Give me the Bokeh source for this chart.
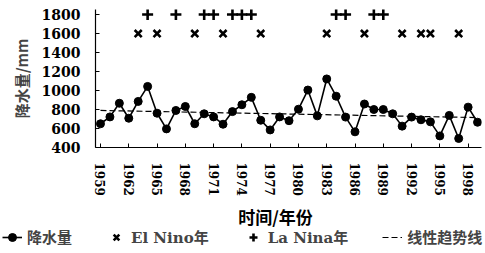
from bokeh.plotting import figure
from bokeh.layouts import column
from bokeh.models import FixedTicker, Legend, LegendItem, Range1d, Label
from bokeh.embed import file_html
from bokeh.resources import INLINE

# ---- data ----
years = [1959, 1960, 1961, 1962, 1963, 1964, 1965, 1966, 1967, 1968,
         1969, 1970, 1971, 1972, 1973, 1974, 1975, 1976, 1977, 1978,
         1979, 1980, 1981, 1982, 1983, 1984, 1985, 1986, 1987, 1988,
         1989, 1990, 1991, 1992, 1993, 1994, 1995, 1996, 1997, 1998, 1999]
rain = [650, 722, 866, 708, 885, 1043, 761, 596, 790, 832,
        650, 755, 722, 645, 778, 850, 928, 687, 585, 722,
        682, 803, 1005, 733, 1122, 940, 720, 565, 858, 800,
        800, 755, 625, 720, 692, 670, 522, 738, 495, 825, 666]

el_nino_years = [1963, 1965, 1969, 1972, 1976, 1983, 1987, 1991, 1993, 1994, 1997]
el_nino_level = 1600
la_nina_years = [1964, 1967, 1970, 1971, 1973, 1974, 1975, 1984, 1985, 1988, 1989]
la_nina_level = 1800

trend_years = [1959, 1999]
trend_values = [790, 715]

x_tick_years = [1959, 1962, 1965, 1968, 1971, 1974, 1977, 1980, 1983, 1986, 1989, 1992, 1995, 1998]
y_tick_values = [400, 600, 800, 1000, 1200, 1400, 1600, 1800]

x_title = "时间/年份"
y_title = "降水量/mm"
legend_labels = ["降水量", "El Nino年", "La Nina年", "线性趋势线"]

SERIF = "DejaVu Serif"
CJK = "Noto Sans CJK SC"
MIXED = "'DejaVu Serif', 'Noto Sans CJK SC'"

# styles shared by the chart and its legend strip
LINE = dict(line_color="black", line_width=1.6)
DOT = dict(marker="circle", size=8, fill_color="black", line_color="black")
XMARK = dict(marker="x", size=10, line_color="black", line_width=2.6)
PLUS = dict(marker="cross", size=11, line_color="black", line_width=2.6)
TREND = dict(line_color="black", line_width=1.2, line_dash="6 3")

p = figure(width=485, height=202, output_backend="svg", toolbar_location=None,
           x_range=Range1d(1958.47, 1999.42), y_range=Range1d(400, 1853),
           min_border_left=95, min_border_right=4, min_border_top=9, min_border_bottom=55)
p.outline_line_color = None
p.grid.visible = False

p.line(trend_years, trend_values, **TREND)
p.line(years, rain, **LINE)
p.scatter(years, rain, **DOT)
p.scatter(el_nino_years, [el_nino_level] * len(el_nino_years), **XMARK)
p.scatter(la_nina_years, [la_nina_level] * len(la_nina_years), **PLUS)

# axes
xa = p.xaxis[0]
xa.ticker = FixedTicker(ticks=x_tick_years)
xa.major_label_orientation = "vertical"
xa.major_label_text_font = SERIF
xa.major_label_text_font_style = "bold"
xa.major_label_text_font_size = "12px"
xa.major_label_text_color = "black"
xa.major_label_standoff = 15
xa.major_tick_in = 4
xa.major_tick_out = 0
xa.minor_tick_in = 0
xa.minor_tick_out = 0
xa.axis_line_color = "black"
xa.axis_line_width = 1.2

ya = p.yaxis[0]
ya.ticker = FixedTicker(ticks=y_tick_values)
ya.major_label_text_font = SERIF
ya.major_label_text_font_style = "bold"
ya.major_label_text_font_size = "14px"
ya.major_label_text_color = "black"
ya.major_label_standoff = 15
ya.major_tick_in = 4
ya.major_tick_out = 0
ya.minor_tick_in = 0
ya.minor_tick_out = 0
ya.axis_line_color = "black"
ya.axis_line_width = 1.2
ya.axis_label = y_title
ya.axis_label_text_font = CJK
ya.axis_label_text_font_style = "bold"
ya.axis_label_text_font_size = "15px"
ya.axis_label_standoff = 7

# strip below the chart: x-axis title and legend
lg = figure(width=485, height=51, output_backend="svg", toolbar_location=None,
            x_range=Range1d(0, 1), y_range=Range1d(0, 1),
            x_axis_type=None, y_axis_type=None,
            min_border_left=0, min_border_right=0, min_border_top=0, min_border_bottom=0)
lg.outline_line_color = None
lg.grid.visible = False
if "frame_align" in lg.properties():
    lg.frame_align = False
    p.frame_align = False

lg.add_layout(Label(x=275, y=37, x_units="screen", y_units="screen", text=x_title,
                    text_align="center", text_baseline="middle", text_font=CJK,
                    text_font_style="bold", text_font_size="17px", text_color="black"))

# legend glyph sources sit outside the strip's visible range
off = [-5]
r_line = lg.line(off, off, **LINE)
r_dot = lg.scatter(off, off, **DOT)
r_x = lg.scatter(off, off, **XMARK)
r_plus = lg.scatter(off, off, **PLUS)
r_trend = lg.line(off, off, **TREND)

legend = Legend(items=[
    LegendItem(label=legend_labels[0], renderers=[r_line, r_dot]),
    LegendItem(label=legend_labels[1], renderers=[r_x]),
    LegendItem(label=legend_labels[2], renderers=[r_plus]),
    LegendItem(label=legend_labels[3], renderers=[r_trend]),
], orientation="horizontal", location=(2, 6), margin=0, padding=0,
    spacing=34, glyph_width=20, glyph_height=20, label_standoff=5,
    label_text_font=MIXED, label_text_font_style="bold", label_text_font_size="15px",
    border_line_color=None, background_fill_alpha=0)
lg.add_layout(legend, "center")

layout = column(p, lg, spacing=0)
open("out.html", "w").write(file_html(layout, INLINE))
